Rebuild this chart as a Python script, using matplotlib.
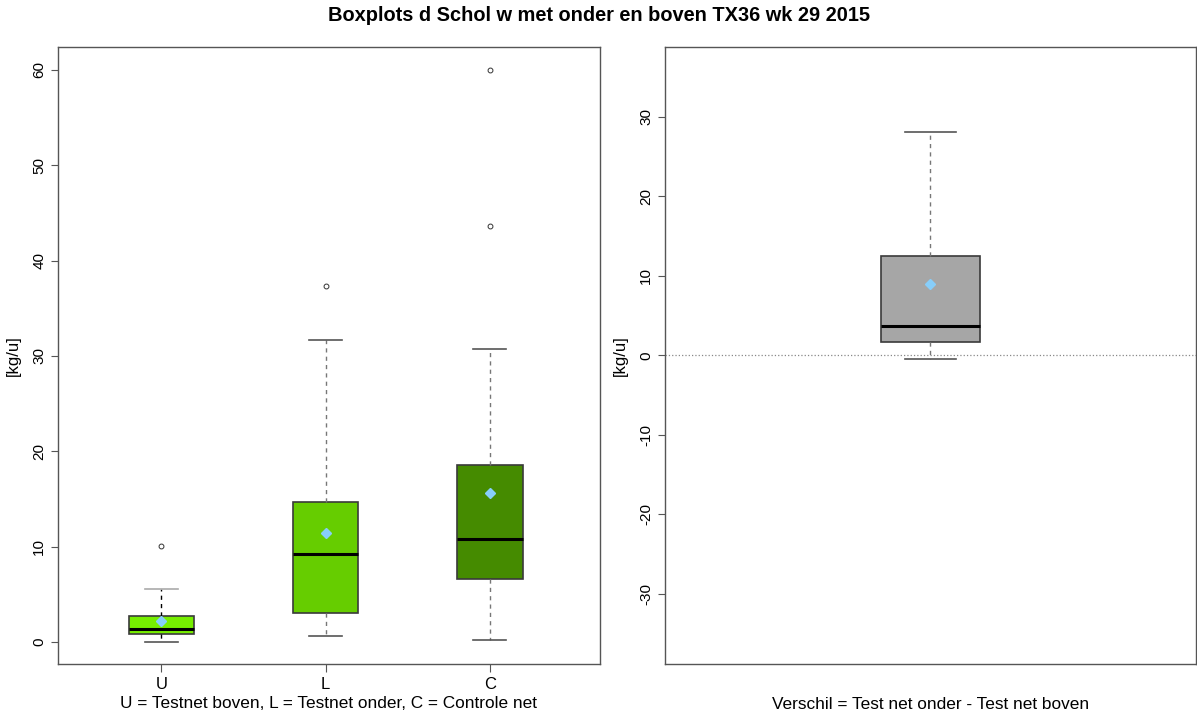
import matplotlib.pyplot as plt

plt.rcParams['font.family'] = ['Liberation Sans', 'DejaVu Sans']
plt.rcParams['axes.unicode_minus'] = False

# Linker paneel: U, L, C
groepen = ['U', 'L', 'C']
whisk_laag = [0.03, 0.66, 0.25]
q1 = [0.84, 3.08, 6.65]
mediaan = [1.36, 9.23, 10.8]
q3 = [2.76, 14.66, 18.57]
whisk_hoog = [5.56, 31.7, 30.7]
gemiddelde = [2.24, 11.4, 15.67]
uitschieters = [[10.07], [37.35], [43.6, 60.0]]
kleuren = ['#76EE00', '#66CD00', '#458B00']

# Rechter paneel: verschil
v_stats = dict(whislo=-0.5, q1=1.72, med=3.69, q3=12.54, whishi=28.05, fliers=[], label='')
v_gemiddelde = 9.02

fig = plt.figure(figsize=(11.97, 7.2), dpi=100)
ax1 = fig.add_axes([0.0485, 0.0778, 0.4525, 0.857])
ax2 = fig.add_axes([0.5556, 0.0778, 0.4435, 0.857])

stats = []
for i, g in enumerate(groepen):
    stats.append(dict(whislo=whisk_laag[i], q1=q1[i], med=mediaan[i], q3=q3[i],
                      whishi=whisk_hoog[i], fliers=uitschieters[i], label=g))

pos = [1, 2, 3]
bp = ax1.bxp(stats, positions=pos, widths=0.4, patch_artist=True, showfliers=True,
             boxprops=dict(edgecolor='#3a3a3a', linewidth=1.2),
             medianprops=dict(color='black', linewidth=2.2),
             whiskerprops=dict(color='#777777', linestyle=(0, (3, 3)), linewidth=1),
             capprops=dict(color='#555555', linewidth=1.2),
             capwidths=0.2,
             flierprops=dict(marker='o', markersize=3.5, markerfacecolor='none',
                             markeredgecolor='#333333', markeredgewidth=0.7))
for box, c in zip(bp['boxes'], kleuren):
    box.set_facecolor(c)
# U: zwarte whiskers, lichtgrijze bovenste cap
bp['whiskers'][0].set_color('black')
bp['whiskers'][1].set_color('black')
bp['caps'][1].set_color('#aaaaaa')
ax1.plot(pos, gemiddelde, linestyle='none', marker='D', markersize=5.5,
         color='#87CEFA', zorder=5)

ax1.set_xlim(0.37, 3.67)
ax1.set_ylim(-2.3, 62.4)
ax1.set_yticks([0, 10, 20, 30, 40, 50, 60])
ax1.set_xticks(pos)
ax1.set_xticklabels(groepen)
ax1.set_ylabel('[kg/u]', fontsize=12, labelpad=8)
ax1.set_xlabel('U = Testnet boven, L = Testnet onder, C = Controle net', fontsize=12.4, labelpad=3)

bp2 = ax2.bxp([v_stats], positions=[1], widths=0.37, patch_artist=True, showfliers=False,
              boxprops=dict(edgecolor='#3a3a3a', linewidth=1.2, facecolor='#A6A6A6'),
              medianprops=dict(color='black', linewidth=2.2),
              whiskerprops=dict(color='#777777', linestyle=(0, (3, 3)), linewidth=1),
              capprops=dict(color='#555555', linewidth=1.2),
              capwidths=0.19)
ax2.plot([1], [v_gemiddelde], linestyle='none', marker='D', markersize=5.5,
         color='#87CEFA', zorder=5)
ax2.axhline(0, color='#888888', linestyle=':', linewidth=0.9, zorder=0)
ax2.set_xlim(0, 2)
ax2.set_ylim(-38.8, 38.8)
ax2.set_yticks([-30, -20, -10, 0, 10, 20, 30])
ax2.set_xticks([])
ax2.set_ylabel('[kg/u]', fontsize=12, labelpad=8)
ax2.set_xlabel('Verschil = Test net onder - Test net boven', fontsize=12.4, labelpad=24)

for ax in (ax1, ax2):
    for s in ax.spines.values():
        s.set_color('#555555')
        s.set_linewidth(1)
    ax.tick_params(axis='y', labelrotation=90, labelsize=11, length=5, color='#555555')
    ax.tick_params(axis='x', labelsize=12, length=6, color='#555555')
    for lab in ax.get_yticklabels():
        lab.set_verticalalignment('center')

fig.suptitle('Boxplots d Schol w met onder en boven TX36 wk 29 2015',
             fontsize=14.4, fontweight='bold', y=0.992)

fig.savefig('out.png', dpi=100)
